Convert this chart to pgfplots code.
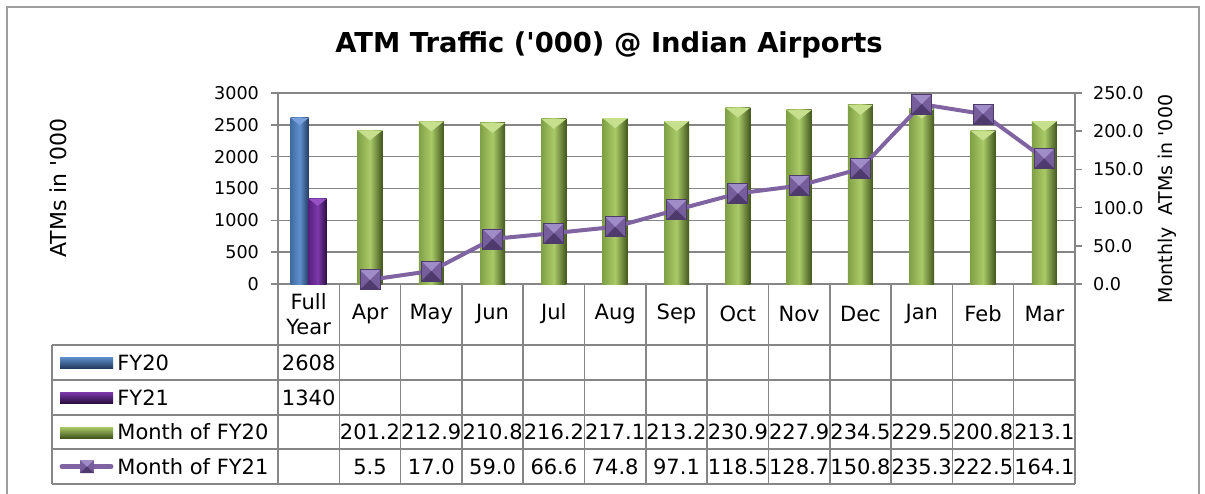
\documentclass[border=0pt]{standalone}
\usepackage{pgfplots}
\pgfplotsset{compat=1.18}
\usepackage{fontspec}
\setmainfont{DejaVu Sans}

\definecolor{gridgray}{RGB}{134,134,134}
\definecolor{blueL}{RGB}{64,108,160}
\definecolor{blueM}{RGB}{96,144,205}
\definecolor{blueR}{RGB}{34,60,96}
\definecolor{blueV}{RGB}{120,160,220}
\definecolor{purL}{RGB}{88,32,128}
\definecolor{purM}{RGB}{124,58,170}
\definecolor{purR}{RGB}{44,14,66}
\definecolor{purV}{RGB}{150,82,196}
\definecolor{grnL}{RGB}{128,160,70}
\definecolor{grnM}{RGB}{170,202,104}
\definecolor{grnR}{RGB}{66,86,30}
\definecolor{grnV}{RGB}{198,224,142}
\definecolor{linepur}{RGB}{128,100,162}
\definecolor{mklight}{RGB}{160,140,198}
\definecolor{mkmid}{RGB}{118,94,156}
\definecolor{mkdark}{RGB}{78,58,108}

% bevelled tops of the bars
\pgfdeclareplotmark{vtopL}{%
  \pgfpathmoveto{\pgfqpoint{-9pt}{0pt}}\pgfpathlineto{\pgfqpoint{0pt}{0pt}}%
  \pgfpathlineto{\pgfqpoint{-4.5pt}{-3.6pt}}\pgfpathclose
  \pgfsetfillcolor{blueV}\pgfusepath{fill}}
\pgfdeclareplotmark{vtopR}{%
  \pgfpathmoveto{\pgfqpoint{0pt}{0pt}}\pgfpathlineto{\pgfqpoint{9pt}{0pt}}%
  \pgfpathlineto{\pgfqpoint{4.5pt}{-3.6pt}}\pgfpathclose
  \pgfsetfillcolor{purV}\pgfusepath{fill}}
\pgfdeclareplotmark{vtopG}{%
  \pgfpathmoveto{\pgfqpoint{-6.25pt}{0pt}}\pgfpathlineto{\pgfqpoint{6.25pt}{0pt}}%
  \pgfpathlineto{\pgfqpoint{0pt}{-5pt}}\pgfpathclose
  \pgfsetfillcolor{grnV}\pgfusepath{fill}}
% bevelled square marker of the line
\pgfdeclareplotmark{bevsq}{%
  \pgfpathrectangle{\pgfqpoint{-5pt}{-5pt}}{\pgfqpoint{10pt}{10pt}}%
  \pgfsetfillcolor{mkmid}\pgfusepath{fill}%
  \pgfpathmoveto{\pgfqpoint{-5pt}{5pt}}\pgfpathlineto{\pgfqpoint{5pt}{5pt}}%
  \pgfpathlineto{\pgfqpoint{0pt}{0pt}}\pgfpathclose
  \pgfsetfillcolor{mklight}\pgfusepath{fill}%
  \pgfpathmoveto{\pgfqpoint{-5pt}{-5pt}}\pgfpathlineto{\pgfqpoint{5pt}{-5pt}}%
  \pgfpathlineto{\pgfqpoint{0pt}{0pt}}\pgfpathclose
  \pgfsetfillcolor{mkdark}\pgfusepath{fill}%
  \pgfsetlinewidth{0.4pt}%
  \pgfpathrectangle{\pgfqpoint{-5pt}{-5pt}}{\pgfqpoint{10pt}{10pt}}%
  \pgfsetstrokecolor{mkdark}\pgfusepath{stroke}}

\newcommand{\tabfont}{\fontsize{10.5}{12.5}\selectfont}
\newcommand{\q}{\textquotesingle}

\pgfplotsset{
  greenbar/.style={ybar, bar width=12.5pt, bar shift=0pt, draw=none,
    left color=grnL, right color=grnR, middle color=grnM},
}

\begin{document}
\begin{tikzpicture}[x=0.5pt,y=-0.5pt]

  %% outer frame
  \draw[gridgray!80, line width=0.8pt] (7,7) rectangle (1199,530);

  %% left axis: full year totals
  \begin{axis}[
    at={(139pt,-142pt)}, anchor=south west,
    width=398.5pt, height=95.5pt, scale only axis,
    xmin=-0.5, xmax=12.5, ymin=0, ymax=3000,
    axis x line*=bottom, axis y line*=left,
    xtick=\empty,
    ytick={0,500,...,3000},
    ymajorgrids,
    grid style={gridgray, line width=0.75pt},
    axis line style={gridgray, line width=0.75pt, -},
    tick style={gridgray, line width=0.75pt},
    tick align=outside, major tick length=3.5pt,
    yticklabel style={font=\fontsize{8.8}{10}\selectfont, xshift=-2.5pt,
      /pgf/number format/assume math mode=true,
      /pgf/number format/1000 sep={}},
    clip=false,
  ]
    \addplot[ybar, bar width=9pt, bar shift=-4.5pt, draw=none,
      left color=blueL, right color=blueR, middle color=blueM]
      coordinates {(0,2608)};
    \addplot[only marks, mark=vtopL] coordinates {(0,2608)};
    \addplot[ybar, bar width=9pt, bar shift=4.5pt, draw=none,
      left color=purL, right color=purR, middle color=purM]
      coordinates {(0,1340)};
    \addplot[only marks, mark=vtopR] coordinates {(0,1340)};
  \end{axis}

  %% right axis: monthly values
  \begin{axis}[
    at={(139pt,-142pt)}, anchor=south west,
    width=398.5pt, height=95.5pt, scale only axis,
    xmin=-0.5, xmax=12.5, ymin=0, ymax=250,
    axis x line=none, axis y line*=right,
    xtick=\empty,
    ytick={0,50,...,250},
    axis line style={gridgray, line width=0.75pt, -},
    tick style={gridgray, line width=0.75pt},
    tick align=outside, major tick length=3.5pt,
    yticklabel style={font=\fontsize{8.8}{10}\selectfont, xshift=2pt,
      /pgf/number format/.cd, fixed, fixed zerofill, precision=1,
      assume math mode=true},
    clip=false,
  ]
    % Month of FY20, one plot per bar so each bar gets its own shading
    \addplot[greenbar] coordinates {(1,201.2)};
    \addplot[greenbar] coordinates {(2,212.9)};
    \addplot[greenbar] coordinates {(3,210.8)};
    \addplot[greenbar] coordinates {(4,216.2)};
    \addplot[greenbar] coordinates {(5,217.1)};
    \addplot[greenbar] coordinates {(6,213.2)};
    \addplot[greenbar] coordinates {(7,230.9)};
    \addplot[greenbar] coordinates {(8,227.9)};
    \addplot[greenbar] coordinates {(9,234.5)};
    \addplot[greenbar] coordinates {(10,229.5)};
    \addplot[greenbar] coordinates {(11,200.8)};
    \addplot[greenbar] coordinates {(12,213.1)};
    \addplot[only marks, mark=vtopG]
      coordinates {(1,201.2) (2,212.9) (3,210.8) (4,216.2) (5,217.1) (6,213.2)
                   (7,230.9) (8,227.9) (9,234.5) (10,229.5) (11,200.8) (12,213.1)};
    % Month of FY21
    \addplot[linepur, line width=2pt, mark=bevsq]
      coordinates {(1,5.5) (2,17.0) (3,59.0) (4,66.6) (5,74.8) (6,97.1)
                   (7,118.5) (8,128.7) (9,150.8) (10,235.3) (11,222.5) (12,164.1)};
  \end{axis}

  %% title and axis titles
  \node[font=\fontsize{13.7}{16}\selectfont\bfseries] at (609,45)
    {ATM Traffic (\q000) @ Indian Airports};
  \node[rotate=90, font=\fontsize{11}{13}\selectfont] at (58,188) {ATMs in \q000};
  \node[rotate=90, font=\fontsize{9.5}{11}\selectfont] at (1167,199) {Monthly\ \ ATMs in \q000};

  %% data table grid
  \begin{scope}[gridgray, line width=0.75pt]
    \foreach \yy in {345,380,415,449,484}
      \draw (52,\yy) -- (1075,\yy);
    \draw (52,345) -- (52,484);
    \foreach \k in {0,...,13}
      \draw ({278+61.31*\k},284) -- ({278+61.31*\k},484);
  \end{scope}

  %% category row
  \node[font=\tabfont, align=center] at ({278+61.31*0.5},314) {Full\\Year};
  \foreach \m [count=\i] in {Apr,May,Jun,Jul,Aug,Sep,Oct,Nov,Dec,Jan,Feb,Mar}
    \node[font=\tabfont] at ({278+61.31*(\i+0.5)},314) {\m};

  %% values
  \node[font=\tabfont] at ({278+61.31*0.5},362.5) {2608};
  \node[font=\tabfont] at ({278+61.31*0.5},397.5) {1340};
  \foreach \v [count=\i] in {201.2,212.9,210.8,216.2,217.1,213.2,230.9,227.9,234.5,229.5,200.8,213.1}
    \node[font=\tabfont, inner sep=0pt] at ({278+61.31*(\i+0.5)},432) {\v};
  \foreach \v [count=\i] in {5.5,17.0,59.0,66.6,74.8,97.1,118.5,128.7,150.8,235.3,222.5,164.1}
    \node[font=\tabfont, inner sep=0pt] at ({278+61.31*(\i+0.5)},466.5) {\v};

  %% legend keys
  \shade[top color=blueM, bottom color=blueR] (60,357) rectangle (113,368);
  \shade[top color=purM, bottom color=purR] (60,392) rectangle (113,403);
  \shade[top color=grnM, bottom color=grnR] (60,427) rectangle (113,438);
  \draw[linepur, line width=2.5pt, line cap=round] (62,466.5) -- (111,466.5);
  \fill[mkmid] (80,460) rectangle (94,473);
  \fill[mkdark] (80,473) -- (94,473) -- (87,466.5) -- cycle;
  \fill[mklight] (80,460) -- (94,460) -- (87,466.5) -- cycle;
  \node[font=\tabfont, anchor=west, inner sep=0pt] at (117,362.5) {FY20};
  \node[font=\tabfont, anchor=west, inner sep=0pt] at (117,397.5) {FY21};
  \node[font=\tabfont, anchor=west, inner sep=0pt] at (117,432) {Month of FY20};
  \node[font=\tabfont, anchor=west, inner sep=0pt] at (117,466.5) {Month of FY21};

  \pgfresetboundingbox
  \path[use as bounding box] (0,0) rectangle (1205,493);
\end{tikzpicture}
\end{document}
